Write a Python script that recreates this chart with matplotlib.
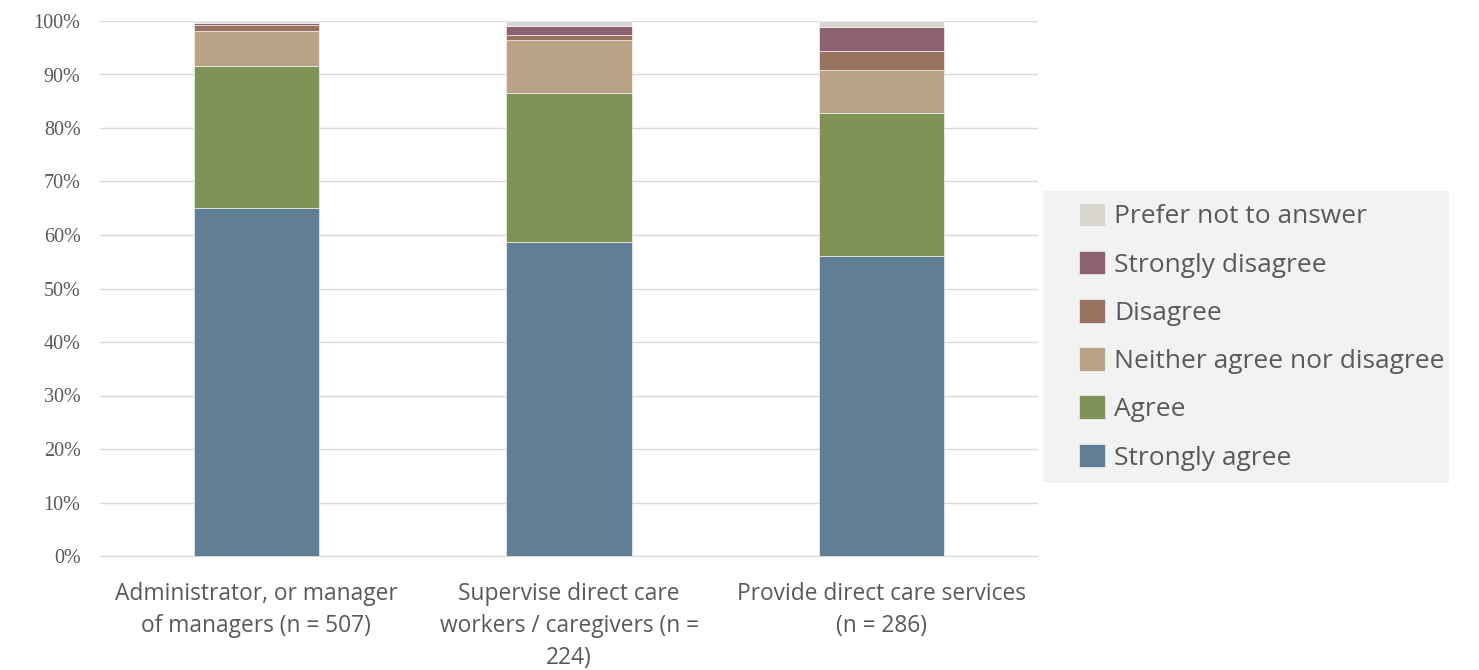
import numpy as np
import matplotlib.pyplot as plt
from matplotlib.patches import Rectangle

groups = ['Administrator, or manager\nof managers (n = 507)',
          'Supervise direct care\nworkers / caregivers (n =\n224)',
          'Provide direct care services\n(n = 286)']
labels = ['Strongly agree', 'Agree', 'Neither agree nor disagree',
          'Disagree', 'Strongly disagree', 'Prefer not to answer']
strongly_agree = [65.0, 58.7, 56.1]
agree = [26.6, 27.8, 26.7]
neither = [6.6, 9.9, 8.0]
disagree = [1.1, 0.9, 3.6]
strongly_disagree = [0.4, 1.8, 4.5]
prefer_not = [0.3, 0.9, 1.1]
colors = ['#607f96', '#809356', '#b9a386', '#9a7260', '#8e6170', '#d9d5cf']

series = [strongly_agree, agree, neither, disagree, strongly_disagree, prefer_not]

fig = plt.figure(figsize=(14.79, 6.70), dpi=100)
ax = fig.add_axes([100/1479, 1-556/670, 938/1479, 535/670])

x = np.arange(len(groups))
bottom = np.zeros(len(groups))
handles = []
for vals, lab, col in zip(series, labels, colors):
    b = ax.bar(x, vals, 0.4, bottom=bottom, color=col, label=lab,
               edgecolor='white', linewidth=0.4, zorder=3)
    handles.append(b)
    bottom += np.array(vals)

ax.set_xlim(-0.5, 2.5)
ax.set_ylim(0, 100)
ax.set_yticks(range(0, 101, 10))
ax.set_yticklabels([f'{v}%' for v in range(0, 101, 10)],
                   family='Liberation Serif', fontsize=14.5, color='#595959')
ax.set_xticks(x)
ax.set_xticklabels(groups, family='Open Sans', fontsize=16.4, color='#595959',
                   linespacing=1.46)
ax.tick_params(axis='both', length=0)
ax.tick_params(axis='y', pad=14)
ax.tick_params(axis='x', pad=18.5)
ax.grid(axis='y', color='#d9d9d9', linewidth=1, zorder=0)
for s in ['top', 'right', 'left']:
    ax.spines[s].set_visible(False)
ax.spines['bottom'].set_color('#d9d9d9')

# legend box
fig.patches.append(Rectangle((1043/1479, 1-483/670), 406/1479, 292/670,
                             transform=fig.transFigure, facecolor='#f2f2f2',
                             edgecolor='none', zorder=0))
leg = fig.legend(handles[::-1], labels[::-1], loc='upper left',
                 bbox_to_anchor=(1068/1479, 1-192/670), frameon=False,
                 prop={'family': 'Open Sans', 'size': 19},
                 labelcolor='#595959', handlelength=1.0, handleheight=1.0,
                 handletextpad=0.35, labelspacing=0.81, borderaxespad=0)

fig.savefig('out.png', dpi=100)
